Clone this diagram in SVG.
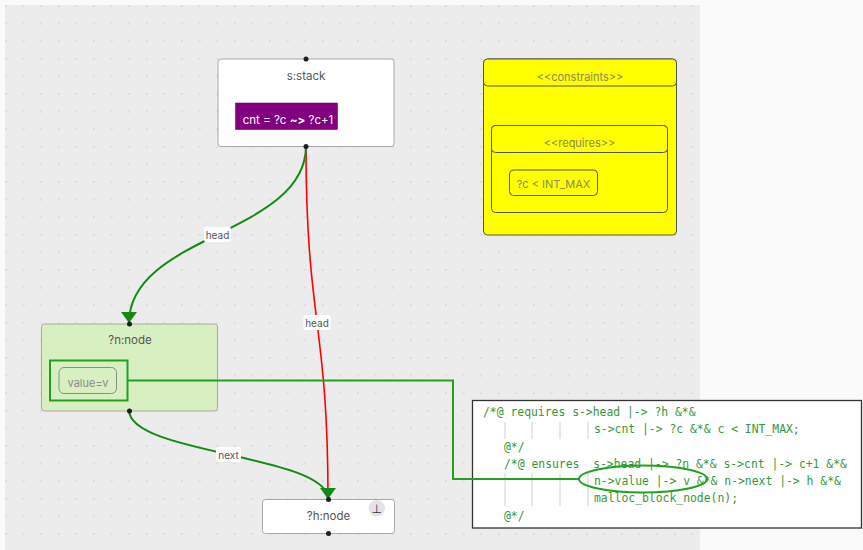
<svg xmlns="http://www.w3.org/2000/svg" width="863" height="550" viewBox="0 0 863 550">
  <defs>
    <pattern id="dots" patternUnits="userSpaceOnUse" x="-2.8" y="-2.8" width="17.6" height="17.6">
      <circle cx="8.8" cy="8.8" r="0.8" fill="#c6c6c6"/>
    </pattern>
    <marker id="arrowGreen" viewBox="0 0 16 11" refX="8" refY="11" markerWidth="16" markerHeight="11" markerUnits="userSpaceOnUse" orient="0">
      <path d="M0,0 L16,0 L8,11 Z" fill="#138a13"/>
    </marker>
  </defs>
  <style>
    .ui { font-family: Inter, "Liberation Sans", Arial, sans-serif; }
    .node { stroke: #a8a8a8; stroke-width: 1; }
    .title { font-size: 11.5px; fill: #555; text-anchor: middle; }
    .handle { fill: #1c1c2a; }
    .edge { fill: none; }
    .elabel { font-size: 10px; fill: #555; text-anchor: middle; }
    .lblbg { fill: #ffffff; }
    .cbox { fill: #ffff00; stroke: #555; stroke-width: 1; }
    .ctext { font-size: 11px; fill: #8a8a5a; text-anchor: middle; }
    .code { font-family: "DejaVu Sans Mono", "Liberation Mono", monospace; font-size: 11.4px; fill: #36973a; white-space: pre; }
    .guide { stroke: #d0d0d0; stroke-width: 1; }
    .hl { fill: none; stroke: #22a022; stroke-width: 2; }
  </style>

  <!-- page and canvas -->
  <rect x="0" y="0" width="863" height="550" fill="#fafafa"/>
  <rect x="5" y="5" width="695" height="545" fill="#ececec"/>
  <rect x="5" y="5" width="695" height="545" fill="url(#dots)"/>

  <!-- connectors -->
  <g id="edges">
    <path id="edge-head-red" class="edge" d="M306,146 C306,322.5 328,322.5 328,499" stroke="#ff0000" stroke-width="1.6"/>
    <path id="edge-head-green" class="edge" d="M306,146 C306,234.5 129,234.5 129,323" stroke="#138a13" stroke-width="2" marker-end="url(#arrowGreen)"/>
    <path id="edge-next" class="edge" d="M129,410 C129,454.5 328,454.5 328,499" stroke="#138a13" stroke-width="2" marker-end="url(#arrowGreen)"/>
    <g class="ui">
      <rect class="lblbg" x="204" y="227" width="27" height="15" rx="2"/>
      <text class="elabel" x="217.5" y="238.5">head</text>
      <rect class="lblbg" x="303.5" y="315" width="27" height="15" rx="2"/>
      <text class="elabel" x="317" y="326.5">head</text>
      <rect class="lblbg" x="216" y="447" width="25" height="15" rx="2"/>
      <text class="elabel" x="228.5" y="458.5">next</text>
    </g>
  </g>

  <!-- s:stack -->
  <g id="node-s-stack" class="ui">
    <rect class="node" x="218" y="59" width="176" height="87.5" rx="3" fill="#ffffff"/>
    <text class="title" x="306" y="80">s:stack</text>
    <rect x="235.5" y="103" width="102" height="26.5" fill="#800080" stroke="#5a005a" stroke-width="0.5"/>
    <text x="288" y="124" font-size="11.5" fill="#ffffff" text-anchor="middle">cnt = ?c <tspan font-weight="bold">~&gt;</tspan> ?c+1</text>
    <circle class="handle" cx="306" cy="59" r="2.5"/>
    <circle class="handle" cx="306" cy="146.5" r="2.5"/>
  </g>

  <!-- constraints -->
  <g id="node-constraints" class="ui">
    <rect class="cbox" x="483.5" y="59" width="193" height="176" rx="4"/>
    <rect class="cbox" x="483.5" y="59" width="193" height="27" rx="4"/>
    <text class="ctext" x="580" y="81">&lt;&lt;constraints&gt;&gt;</text>
    <g id="node-requires">
      <rect class="cbox" x="491.5" y="125.5" width="176" height="87" rx="4"/>
      <rect class="cbox" x="491.5" y="125.5" width="176" height="27" rx="4"/>
      <text class="ctext" x="579.5" y="147">&lt;&lt;requires&gt;&gt;</text>
      <rect class="cbox" x="509.5" y="170" width="88" height="25.5" rx="4" stroke="#777"/>
      <text class="ctext" x="553.5" y="187.5">?c &lt; INT_MAX</text>
    </g>
  </g>

  <!-- ?n:node -->
  <g id="node-n" class="ui">
    <rect class="node" x="41.5" y="324" width="176" height="87" rx="3" fill="#d8efc2"/>
    <text class="title" x="130" y="344">?n:node</text>
    <rect x="59" y="367.5" width="57.5" height="26" rx="5" fill="none" stroke="#8a8a8a" stroke-width="1"/>
    <text x="88" y="386.5" font-size="11" fill="#8a8a8a" text-anchor="middle">value=v</text>
    <rect class="hl" x="50" y="360.5" width="77.5" height="40"/>
    <circle class="handle" cx="129.5" cy="324" r="2.5"/>
    <circle class="handle" cx="129.5" cy="411" r="2.5"/>
  </g>

  <!-- ?h:node -->
  <g id="node-h" class="ui">
    <rect class="node" x="262.5" y="499.5" width="132" height="34" rx="3" fill="#ffffff"/>
    <text class="title" x="328.5" y="520">?h:node</text>
    <circle cx="376.8" cy="508.3" r="8.3" fill="#e2e2ec"/>
    <text x="376.8" y="512.5" font-size="12" fill="#333" text-anchor="middle" font-family="'DejaVu Sans', sans-serif">⊥</text>
    <circle class="handle" cx="328.5" cy="499.5" r="2.5"/>
    <circle class="handle" cx="328.5" cy="533.5" r="2.5"/>
  </g>

  <!-- specification annotation -->
  <g id="spec-annotation">
    <rect x="472.5" y="400.5" width="389" height="127.5" fill="#ffffff" stroke="#333" stroke-width="1.3"/>
    <g id="code-guides">
      <line class="guide" x1="505" y1="422" x2="505" y2="439"/>
      <line class="guide" x1="532" y1="422" x2="532" y2="439"/>
      <line class="guide" x1="560" y1="422" x2="560" y2="439"/>
      <line class="guide" x1="588" y1="422" x2="588" y2="439"/>
      <line class="guide" x1="505" y1="473" x2="505" y2="506"/>
      <line class="guide" x1="532" y1="473" x2="532" y2="506"/>
      <line class="guide" x1="560" y1="473" x2="560" y2="506"/>
      <line class="guide" x1="588" y1="473" x2="588" y2="506"/>
    </g>
    <text class="code" x="483" y="416">/*@ requires s-&gt;head |-&gt; ?h &amp;*&amp;</text>
    <text class="code" x="594" y="433">s-&gt;cnt |-&gt; ?c &amp;*&amp; c &lt; INT_MAX;</text>
    <text class="code" x="504" y="451">@*/</text>
    <text class="code" x="504" y="468">/*@ ensures  s-&gt;head |-&gt; ?n &amp;*&amp; s-&gt;cnt |-&gt; c+1 &amp;*&amp;</text>
    <text class="code" x="594" y="485">n-&gt;value |-&gt; v &amp;*&amp; n-&gt;next |-&gt; h &amp;*&amp;</text>
    <text class="code" x="594" y="502">malloc_block_node(n);</text>
    <text class="code" x="504" y="520">@*/</text>
    <ellipse class="hl" cx="643" cy="479" rx="64" ry="13.5"/>
  </g>

  <!-- link from the highlighted field to the spec clause -->
  <g id="field-link">
    <polyline class="hl" points="127.5,380.5 453,380.5 453,479 579,479"/>
  </g>
</svg>
